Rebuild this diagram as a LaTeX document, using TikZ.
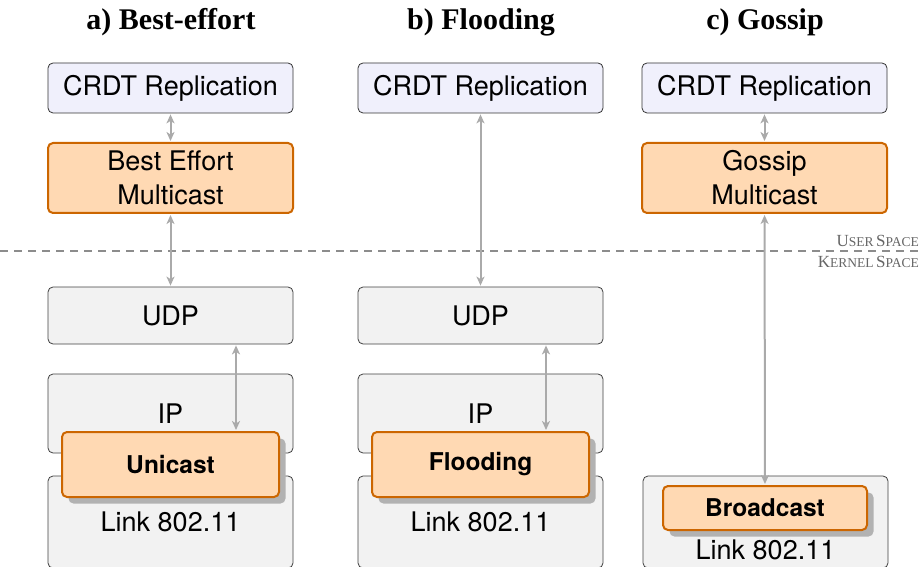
\documentclass[tikz,border=0pt]{standalone}
\usepackage{fontspec}
\setmainfont{Liberation Serif}
\setsansfont{TeX Gyre Heros}
\usetikzlibrary{arrows.meta,shadows}

\definecolor{crdtfill}{HTML}{F0F0FC}
\definecolor{layerfill}{HTML}{F2F2F2}
\definecolor{castfill}{HTML}{FFD9B3}
\definecolor{castdraw}{HTML}{CC6600}
\definecolor{linkgray}{HTML}{AAAAAA}

% fake small caps: big first letter, small rest
\newcommand{\fakesc}[2]{{\fontsize{17}{19}\selectfont #1}{\fontsize{13.5}{15}\selectfont #2}}

\begin{document}
\begin{tikzpicture}[x=1pt,y=-1pt,>={Stealth[length=9pt,width=8pt,inset=2.5pt]},
app/.style={rectangle, rounded corners=5pt, draw=black!80, line width=0.8pt, fill=crdtfill, minimum width=245pt, minimum height=50pt, font=\fontsize{27}{34}\selectfont\sffamily},
mcast/.style={rectangle, rounded corners=5pt, draw=castdraw, line width=2pt, fill=castfill, align=center, minimum width=245pt, minimum height=70pt, font=\fontsize{27}{34}\selectfont\sffamily},
layer/.style={rectangle, rounded corners=5pt, draw=black!75, line width=0.8pt, fill=layerfill, minimum width=245pt, font=\fontsize{27}{34}\selectfont\sffamily},
cast/.style={rectangle, rounded corners=5pt, draw=castdraw, line width=2pt, fill=castfill, font=\fontsize{24.5}{30}\selectfont\sffamily\bfseries, drop shadow={shadow xshift=6.5pt, shadow yshift=-6.5pt, fill=black!30, opacity=1}},
title/.style={font=\fontsize{30}{34}\selectfont\bfseries},
flow/.style={<->, draw=linkgray, line width=2pt, shorten >=1pt, shorten <=1pt},
spacelbl/.style={anchor=east, text=black!60, inner sep=0pt}]

\useasboundingbox (0,0) rectangle (922,567);

% titles
\draw (171,22) node[title] (ta) {a) Best-effort};
\draw (481,22) node[title] (tb) {b) Flooding};
\draw (765,22) node[title] (tc) {c) Gossip};

% user / kernel boundary
\draw[black!45, line width=1.5pt, dash pattern=on 8pt off 6pt] (0,251) coordinate (sepL) -- (922,251) coordinate (sepR);
\draw (919,241) node[spacelbl] (usr) {\fakesc{U}{SER} \fakesc{S}{PACE}};
\draw (919,262) node[spacelbl] (krn) {\fakesc{K}{ERNEL} \fakesc{S}{PACE}};

% a) best-effort
\draw (170.5,88) node[app] (crdtA) {CRDT Replication};
\draw (170.5,178) node[mcast] (bemA) {Best Effort\\Multicast};
\draw (170.5,315.5) node[layer, minimum height=57pt] (udpA) {UDP};
\draw (170.5,413.5) node[layer, minimum height=79pt] (ipA) {IP};
\draw (170.5,522) node[layer, minimum height=92pt] (linkA) {Link 802.11};
\draw (170.5,464.5) node[cast, minimum width=217pt, minimum height=65pt] (uniA) {Unicast};

\draw[flow] (crdtA) -- (bemA);
\draw[flow] (bemA) -- (udpA);
\draw[flow] ([xshift=65.5pt]udpA.south) -- ([xshift=65.5pt]uniA.north);

% b) flooding
\draw (480.5,88) node[app] (crdtB) {CRDT Replication};
\draw (480.5,315.5) node[layer, minimum height=57pt] (udpB) {UDP};
\draw (480.5,413.5) node[layer, minimum height=79pt] (ipB) {IP};
\draw (480.5,522) node[layer, minimum height=92pt] (linkB) {Link 802.11};
\draw (480.5,464.5) node[cast, minimum width=217pt, minimum height=65pt] (floodB) {Flooding};

\draw[flow] (crdtB) -- (udpB);
\draw[flow] ([xshift=65.5pt]udpB.south) -- ([xshift=65.5pt]floodB.north);

% c) gossip
\draw (764.5,88) node[app] (crdtC) {CRDT Replication};
\draw (764.5,178) node[mcast] (gossC) {Gossip\\Multicast};
\draw (765.5,522) node[layer, minimum height=92pt] (linkC) {};
\draw (765.5,550) node[font=\fontsize{27}{34}\selectfont\sffamily] (linkClbl) {Link 802.11};
\draw (765,508) node[cast, minimum width=204pt, minimum height=44pt] (bcastC) {Broadcast};

\draw[flow] (crdtC) -- (gossC);
\draw[flow] (gossC) -- (bcastC);
\end{tikzpicture}
\end{document}
